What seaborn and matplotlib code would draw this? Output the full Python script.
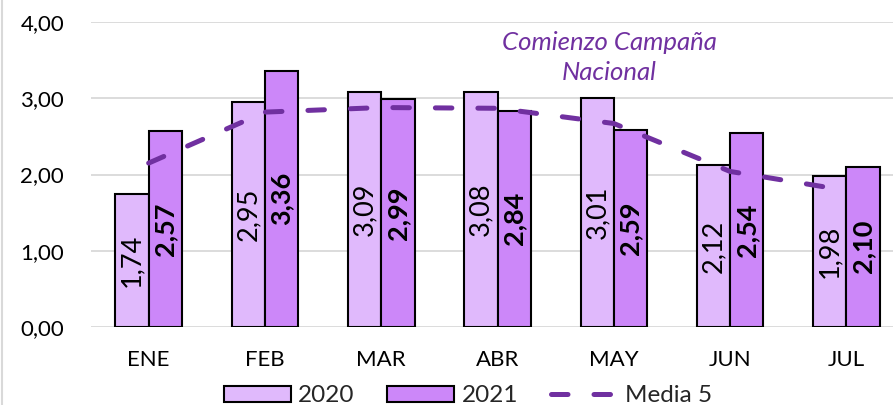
import matplotlib
matplotlib.use("Agg")
import matplotlib.pyplot as plt
from matplotlib.patches import Patch
from matplotlib.lines import Line2D
import seaborn as sns
import pandas as pd

# Monthly values
months = ["ENE", "FEB", "MAR", "ABR", "MAY", "JUN", "JUL"]
values_2020 = [1.74, 2.95, 3.09, 3.08, 3.01, 2.12, 1.98]
values_2021 = [2.57, 3.36, 2.99, 2.84, 2.59, 2.54, 2.10]
media_5 = [2.15, 2.82, 2.88, 2.87, 2.67, 2.04, 1.79]
series = ["2020", "2021"]
y_ticks = [0, 1, 2, 3, 4]

COL_2020 = "#E0B9FC"
COL_2021 = "#CC87F9"
COL_LINE = "#7030A0"
GRID = "#D9D9D9"

sns.set_theme(style="white")
plt.rcParams["font.family"] = ["Lato", "DejaVu Sans"]

df = pd.DataFrame({
    "mes": months * 2,
    "valor": values_2020 + values_2021,
    "serie": [series[0]] * len(months) + [series[1]] * len(months),
})

fig = plt.figure(figsize=(8.93, 4.05), dpi=100)
ax = fig.add_axes([90.5 / 893, 78.3 / 405, 814.1 / 893, 304.4 / 405])

sns.barplot(data=df, x="mes", y="valor", hue="serie", order=months,
            hue_order=series, palette=[COL_2020, COL_2021], saturation=1,
            width=0.573, gap=0, edgecolor="black", linewidth=1.5,
            legend=False, ax=ax, zorder=2)

sns.lineplot(x=months, y=media_5, color=COL_LINE, linewidth=3.6,
             ax=ax, zorder=3, legend=False)
for ln in ax.lines:
    ln.set_linestyle((0, (3.3, 5.2)))
    ln.set_dash_capstyle("round")

# value labels inside the bars
for cont, vals, weight in zip(ax.containers, [values_2020, values_2021],
                              ["normal", "bold"]):
    ax.bar_label(cont, labels=[f"{v:.2f}".replace(".", ",") for v in vals],
                 label_type="center", rotation=90, fontsize=19.5,
                 fontweight=weight, color="black")

ax.set_ylim(0, 4)
ax.set_xlim(-0.5, 6.5)
ax.set_yticks(y_ticks)
ax.set_yticklabels([f"{t:.2f}".replace(".", ",") for t in y_ticks])
ax.yaxis.grid(True, color=GRID, linewidth=1.3, zorder=0)
ax.set_axisbelow(True)
for s in ax.spines.values():
    s.set_visible(False)
ax.tick_params(axis="both", length=0, labelsize=16, colors="black")
ax.tick_params(axis="x", pad=17)
ax.tick_params(axis="y", pad=19)
ax.set_xlabel("")
ax.set_ylabel("")

ax.text(3.963, 3.535, "Comienzo Campaña\nNacional", ha="center",
        va="center", fontsize=18.5, style="italic", color=COL_LINE,
        linespacing=1.4)

handles = [
    Patch(facecolor=COL_2020, edgecolor="black", linewidth=1.5),
    Patch(facecolor=COL_2021, edgecolor="black", linewidth=1.5),
    Line2D([0], [0], color=COL_LINE, linewidth=3.6,
           linestyle=(0, (3.3, 5.2)), dash_capstyle="round"),
]
fig.legend(handles, ["2020", "2021", "Media 5"], loc="center",
           bbox_to_anchor=(468 / 893, 9 / 405), ncol=3, frameon=False,
           fontsize=17.5, handlelength=2.75, handleheight=0.65,
           handletextpad=0.3, columnspacing=1.35)

# chart area border on the left edge
fig.add_artist(Line2D([1.5 / 893, 1.5 / 893], [0, 1], color=GRID,
                      linewidth=1.5, transform=fig.transFigure))

fig.savefig("out.png", dpi=100)
